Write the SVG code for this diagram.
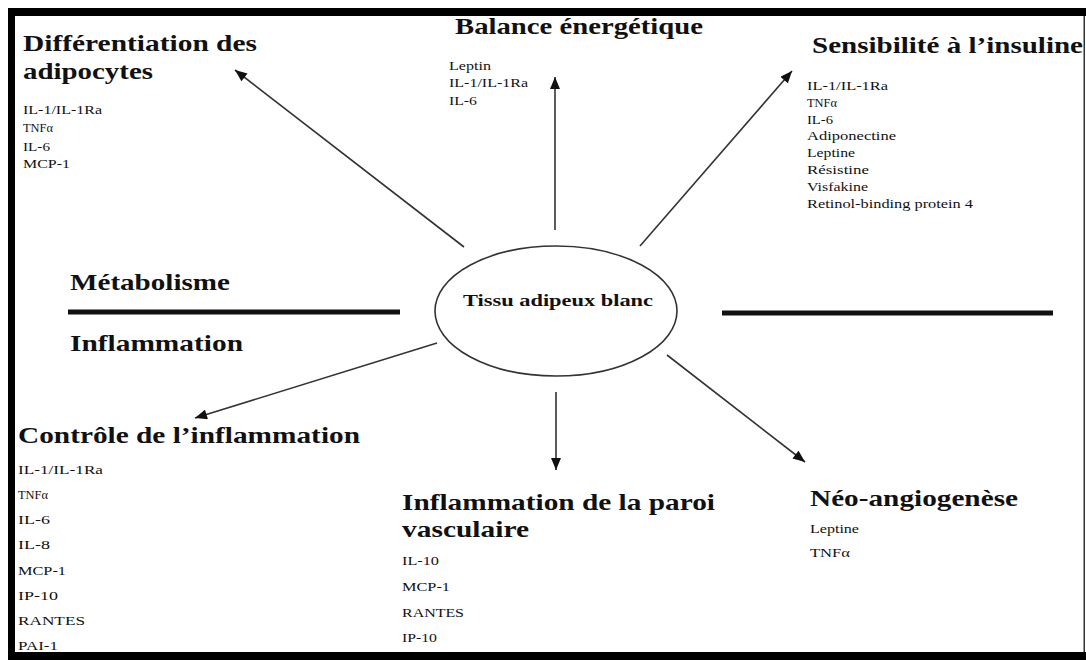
<svg xmlns="http://www.w3.org/2000/svg" width="1086" height="660" viewBox="0 0 1086 660">
<style>
text{font-family:"Liberation Serif","Times New Roman",serif;fill:#111}
.h{font-weight:bold;font-size:23px}
.l{font-size:12.5px}
.c{font-weight:bold;font-size:17.5px}
.cn{stroke:#333;stroke-width:1.6;fill:none}
</style>
<defs>
<marker id="ah" viewBox="0 0 12 10" refX="12" refY="5" markerWidth="13" markerHeight="10" markerUnits="userSpaceOnUse" orient="auto">
<path d="M0,0 L12,5 L0,10 Z" fill="#111"/>
</marker>
</defs>
<rect x="0" y="0" width="1086" height="660" fill="#fff"/>
<g id="frame">
<rect x="8" y="8" width="1078" height="8" fill="#000"/>
<rect x="8" y="8" width="7" height="652" fill="#000"/>
<rect x="1083.5" y="16" width="1.5" height="640" fill="#333"/>
<rect x="8" y="652" width="1078" height="8" fill="#000"/>
</g>
<g id="connectors">
<line class="cn" x1="464" y1="247" x2="235" y2="70" marker-end="url(#ah)"/>
<line class="cn" x1="555" y1="230" x2="555" y2="77" marker-end="url(#ah)"/>
<line class="cn" x1="640" y1="246" x2="792" y2="71" marker-end="url(#ah)"/>
<line class="cn" x1="437" y1="343" x2="195" y2="418" marker-end="url(#ah)"/>
<line class="cn" x1="556" y1="392" x2="556" y2="470" marker-end="url(#ah)"/>
<line class="cn" x1="667" y1="355" x2="805" y2="462" marker-end="url(#ah)"/>
</g>
<g id="divider">
<line x1="68" y1="312" x2="400" y2="312" stroke="#111" stroke-width="5"/>
<line x1="722" y1="313" x2="1053" y2="313" stroke="#111" stroke-width="5"/>
<text class="h" x="70" y="290" textLength="160" lengthAdjust="spacingAndGlyphs">Métabolisme</text>
<text class="h" x="70" y="351" textLength="173" lengthAdjust="spacingAndGlyphs">Inflammation</text>
</g>
<g id="center">
<ellipse cx="556" cy="311" rx="121" ry="65" fill="#fff" stroke="#333" stroke-width="1.6"/>
<text class="c" x="463" y="306" textLength="190" lengthAdjust="spacingAndGlyphs">Tissu adipeux blanc</text>
</g>
<g id="differentiation">
<text class="h" x="23" y="51" textLength="234" lengthAdjust="spacingAndGlyphs">Différentiation des</text>
<text class="h" x="23" y="79" textLength="130" lengthAdjust="spacingAndGlyphs">adipocytes</text>
<text class="l" x="23" y="114" textLength="79" lengthAdjust="spacingAndGlyphs">IL-1/IL-1Ra</text>
<text class="l" x="23" y="132" textLength="30" lengthAdjust="spacingAndGlyphs">TNFα</text>
<text class="l" x="23" y="151" textLength="27" lengthAdjust="spacingAndGlyphs">IL-6</text>
<text class="l" x="23" y="168" textLength="47" lengthAdjust="spacingAndGlyphs">MCP-1</text>
</g>
<g id="balance">
<text class="h" x="455" y="34" textLength="248" lengthAdjust="spacingAndGlyphs">Balance énergétique</text>
<text class="l" x="449" y="70" textLength="42" lengthAdjust="spacingAndGlyphs">Leptin</text>
<text class="l" x="449" y="87" textLength="79" lengthAdjust="spacingAndGlyphs">IL-1/IL-1Ra</text>
<text class="l" x="449" y="105" textLength="28" lengthAdjust="spacingAndGlyphs">IL-6</text>
</g>
<g id="sensibilite">
<text class="h" x="812" y="53" textLength="271" lengthAdjust="spacingAndGlyphs">Sensibilité à l’insuline</text>
<text class="l" x="807" y="90" textLength="81" lengthAdjust="spacingAndGlyphs">IL-1/IL-1Ra</text>
<text class="l" x="807" y="107" textLength="30" lengthAdjust="spacingAndGlyphs">TNFα</text>
<text class="l" x="807" y="124" textLength="26" lengthAdjust="spacingAndGlyphs">IL-6</text>
<text class="l" x="807" y="140" textLength="89" lengthAdjust="spacingAndGlyphs">Adiponectine</text>
<text class="l" x="807" y="157" textLength="48" lengthAdjust="spacingAndGlyphs">Leptine</text>
<text class="l" x="807" y="174" textLength="62" lengthAdjust="spacingAndGlyphs">Résistine</text>
<text class="l" x="807" y="191" textLength="61" lengthAdjust="spacingAndGlyphs">Visfakine</text>
<text class="l" x="807" y="208" textLength="166" lengthAdjust="spacingAndGlyphs">Retinol-binding protein 4</text>
</g>
<g id="controle">
<text class="h" x="18" y="443" textLength="342" lengthAdjust="spacingAndGlyphs">Contrôle de l’inflammation</text>
<text class="l" x="18" y="474" textLength="85" lengthAdjust="spacingAndGlyphs">IL-1/IL-1Ra</text>
<text class="l" x="18" y="499" textLength="30" lengthAdjust="spacingAndGlyphs">TNFα</text>
<text class="l" x="18" y="524" textLength="32" lengthAdjust="spacingAndGlyphs">IL-6</text>
<text class="l" x="18" y="549" textLength="32" lengthAdjust="spacingAndGlyphs">IL-8</text>
<text class="l" x="18" y="575" textLength="48" lengthAdjust="spacingAndGlyphs">MCP-1</text>
<text class="l" x="18" y="600" textLength="40" lengthAdjust="spacingAndGlyphs">IP-10</text>
<text class="l" x="18" y="625" textLength="67" lengthAdjust="spacingAndGlyphs">RANTES</text>
<text class="l" x="18" y="650" textLength="40" lengthAdjust="spacingAndGlyphs">PAI-1</text>
</g>
<g id="paroi">
<text class="h" x="402" y="510" textLength="313" lengthAdjust="spacingAndGlyphs">Inflammation de la paroi</text>
<text class="h" x="402" y="537" textLength="127" lengthAdjust="spacingAndGlyphs">vasculaire</text>
<text class="l" x="402" y="565" textLength="37" lengthAdjust="spacingAndGlyphs">IL-10</text>
<text class="l" x="402" y="591" textLength="48" lengthAdjust="spacingAndGlyphs">MCP-1</text>
<text class="l" x="402" y="617" textLength="62" lengthAdjust="spacingAndGlyphs">RANTES</text>
<text class="l" x="402" y="642" textLength="35" lengthAdjust="spacingAndGlyphs">IP-10</text>
</g>
<g id="neoangiogenese">
<text class="h" x="810" y="506" textLength="208" lengthAdjust="spacingAndGlyphs">Néo-angiogenèse</text>
<text class="l" x="810" y="533" textLength="49" lengthAdjust="spacingAndGlyphs">Leptine</text>
<text class="l" x="810" y="557" textLength="40" lengthAdjust="spacingAndGlyphs">TNFα</text>
</g>
</svg>
